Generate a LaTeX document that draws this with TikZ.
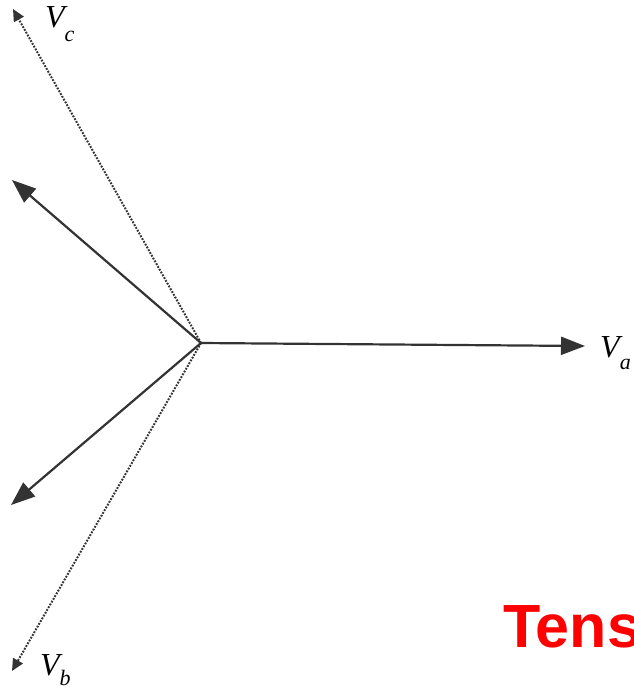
\documentclass[tikz,border=0pt]{standalone}
\usepackage{fontspec}
\newfontfamily\arialfont{Liberation Sans}
\newfontfamily\timesfont{Liberation Serif}
\usetikzlibrary{arrows.meta}
\definecolor{vecgray}{HTML}{333333}
\newcommand{\phlab}[2]{{\timesfont\itshape\fontsize{32}{34}\selectfont V\kern0pt\raisebox{-#2}{\fontsize{22}{24}\selectfont #1}}}
\tikzset{
  phasor/.style={draw=vecgray, line width=2.2pt, -{Triangle[length=24pt,width=18pt]}},
  dotphasor/.style={draw=vecgray, line width=2pt, dash pattern=on 1.8pt off 1.4pt, -{Triangle[length=12pt,width=11pt]}},
  lab/.style={inner sep=0pt, anchor=base west},
}
\begin{document}
\begin{tikzpicture}[x=1pt,y=-1pt]
\useasboundingbox (0,0) rectangle (634,689);
\clip (0,0) rectangle (634,689);
\fill[white] (0,0) rectangle (634,689);
\coordinate (O) at (201,343);
\coordinate (A) at (585,346);
\coordinate (C) at (13,9);
\coordinate (B) at (12,671);
\coordinate (P) at (12,180);
\coordinate (Q) at (11,505);
\draw[phasor] (O) -- (A);
\draw[phasor] (O) -- (P);
\draw[phasor] (O) -- (Q);
\draw[dotphasor] (O) -- (C);
\draw[dotphasor] (O) -- (B);
\node[lab] (la) at (600,357) {\phlab{a}{12pt}};
\node[lab] (lc) at (45,27) {\phlab{c}{14pt}};
\node[lab] (lb) at (40,675) {\phlab{b}{10pt}};
\node[anchor=base west, inner sep=0pt, text=red, font=\arialfont\bfseries\fontsize{61}{64}\selectfont] (t) at (503,647) {Tens};
\end{tikzpicture}
\end{document}
